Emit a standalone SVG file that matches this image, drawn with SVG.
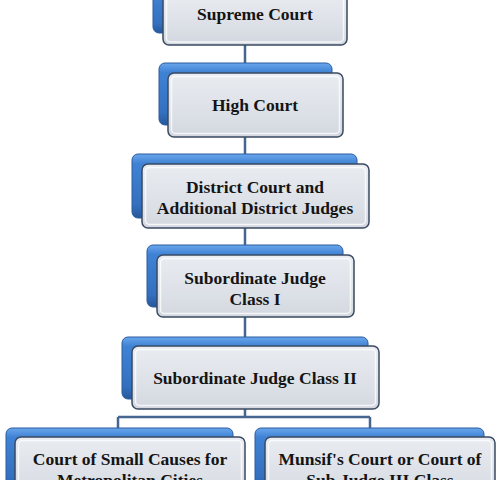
<svg xmlns="http://www.w3.org/2000/svg" width="503" height="480" viewBox="0 0 503 480">
<defs>
<linearGradient id="blue" x1="0" y1="0" x2="0" y2="1">
<stop offset="0" stop-color="#6aa6ec"/>
<stop offset="0.15" stop-color="#3f82d4"/>
<stop offset="0.8" stop-color="#3470bf"/>
<stop offset="1" stop-color="#25589a"/>
</linearGradient>
<linearGradient id="grey" x1="0" y1="0" x2="0" y2="1">
<stop offset="0" stop-color="#e9ecf1"/>
<stop offset="0.5" stop-color="#dfe3e9"/>
<stop offset="1" stop-color="#d3d8e0"/>
</linearGradient>
</defs>
<style>
.back{fill:url(#blue);stroke:#2a5d9e;stroke-width:1}
.front{fill:url(#grey);stroke:#3a4a62;stroke-width:1.5}
.inner{fill:none;stroke:#ffffff;stroke-opacity:0.75;stroke-width:1.5}
.lbl{font-family:"Liberation Serif","Times New Roman",serif;font-weight:bold;font-size:17.5px;fill:#141414;text-anchor:middle}
.conn{fill:none;stroke:#46658f;stroke-width:2.5}
</style>
<rect width="503" height="480" fill="#ffffff"/>
<g id="connectors">
<path class="conn" d="M245 45V63M245 137V154M245 228V245M245 317V337M245 409V417M118 417H370M118 417V428M370 417V428"/>
</g>
<g id="n1">
<rect class="back" x="153" y="-12" width="180" height="45" rx="6"/>
<rect class="front" x="163" y="-8" width="184" height="53" rx="6"/>
<rect class="inner" x="166.5" y="-5" width="177" height="47" rx="4"/>
<text class="lbl" x="255" y="20">Supreme Court</text>
</g>
<g id="n2">
<rect class="back" x="159" y="63" width="173" height="62" rx="6"/>
<rect class="front" x="168" y="73" width="175" height="64" rx="6"/>
<rect class="inner" x="171.5" y="76.5" width="168" height="57" rx="4"/>
<text class="lbl" x="255" y="111">High Court</text>
</g>
<g id="n3">
<rect class="back" x="132" y="154" width="225" height="64" rx="6"/>
<rect class="front" x="142" y="164" width="227" height="64" rx="6"/>
<rect class="inner" x="145.5" y="167.5" width="220" height="57" rx="4"/>
<text class="lbl" x="255" y="193">District Court and</text>
<text class="lbl" x="255" y="214">Additional District Judges</text>
</g>
<g id="n4">
<rect class="back" x="147" y="245" width="196" height="62" rx="6"/>
<rect class="front" x="157" y="255" width="197" height="62" rx="6"/>
<rect class="inner" x="160.5" y="258.5" width="190" height="55" rx="4"/>
<text class="lbl" x="255" y="284">Subordinate Judge</text>
<text class="lbl" x="255" y="305">Class I</text>
</g>
<g id="n5">
<rect class="back" x="122" y="337" width="246" height="62" rx="6"/>
<rect class="front" x="132" y="346" width="247" height="63" rx="6"/>
<rect class="inner" x="135.5" y="349.5" width="240" height="56" rx="4"/>
<text class="lbl" x="255" y="384">Subordinate Judge Class II</text>
</g>
<g id="n6">
<rect class="back" x="6" y="428" width="227" height="62" rx="6"/>
<rect class="front" x="15" y="437" width="230" height="63" rx="6"/>
<rect class="inner" x="18.5" y="440.5" width="223" height="56" rx="4"/>
<text class="lbl" x="130" y="465">Court of Small Causes for</text>
<text class="lbl" x="130" y="486">Metropolitan Cities</text>
</g>
<g id="n7">
<rect class="back" x="255" y="428" width="229" height="62" rx="6"/>
<rect class="front" x="265" y="437" width="230" height="63" rx="6"/>
<rect class="inner" x="268.5" y="440.5" width="223" height="56" rx="4"/>
<text class="lbl" x="380" y="465">Munsif's Court or Court of</text>
<text class="lbl" x="380" y="486">Sub Judge III Class</text>
</g>
</svg>
